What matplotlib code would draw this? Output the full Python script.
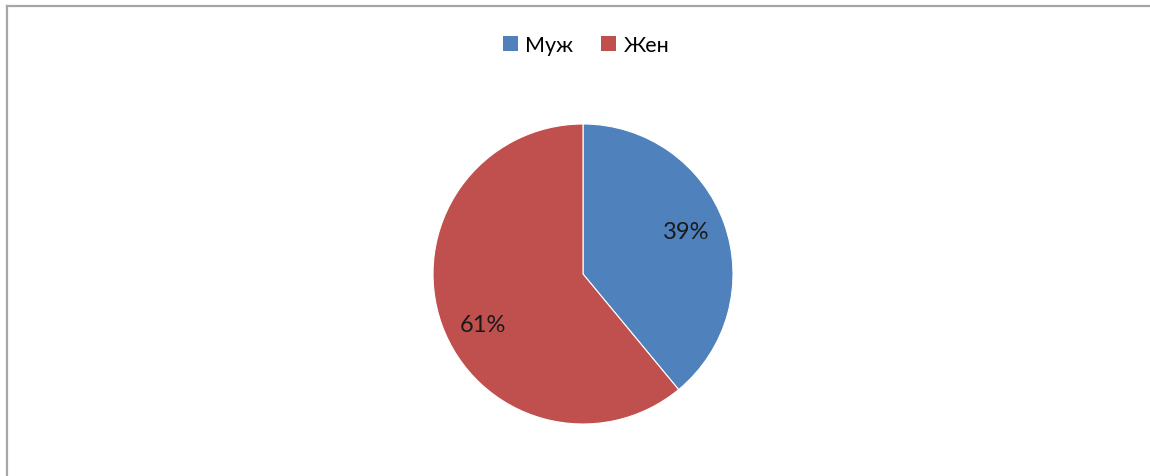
import matplotlib
matplotlib.use("Agg")
import matplotlib.pyplot as plt
from matplotlib.lines import Line2D
from matplotlib.patches import Patch

labels = ["Муж", "Жен"]
values = [39, 61]
colors = ["#4F81BD", "#C0504D"]

plt.rcParams["font.family"] = ["Lato", "DejaVu Sans"]

W, H = 1150, 477
fig = plt.figure(figsize=(W / 100, H / 100), dpi=100)

# pie axes: centre ~ (583, 275) px, radius ~150 px
cx, cy, r = 583, 275, 150
ax = fig.add_axes([(cx - r) / W, (H - cy - r) / H, 2 * r / W, 2 * r / H])
wedges, _, autotexts = ax.pie(
    values, colors=colors, startangle=90, counterclock=False,
    autopct="%d%%", pctdistance=0.74,
    wedgeprops=dict(edgecolor="white", linewidth=0.8),
    textprops=dict(fontsize=17, color="#1a1a1a"),
)
# nudge labels to where the original puts them
autotexts[0].set_position((0.69, 0.28))
autotexts[1].set_position((-0.67, -0.34))
ax.set_xlim(-1, 1)
ax.set_ylim(-1, 1)
ax.set_aspect("equal")
ax.axis("off")

handles = [Patch(facecolor=c, edgecolor="none") for c in colors]
fig.legend(handles, labels, loc="center", bbox_to_anchor=(586 / W, 1 - 46 / H),
           ncol=2, frameon=False, fontsize=15.5, handlelength=0.7, handleheight=0.7,
           handletextpad=0.35, columnspacing=1.3)

# chart frame (left and top edges visible)
fig.add_artist(Line2D([7 / W, 7 / W], [0, 1 - 7 / H], transform=fig.transFigure,
                      color="#a6a6a6", lw=1.6))
fig.add_artist(Line2D([7 / W, 1], [1 - 7 / H, 1 - 7 / H], transform=fig.transFigure,
                      color="#a6a6a6", lw=1.6))

fig.savefig("out.png", dpi=100)
